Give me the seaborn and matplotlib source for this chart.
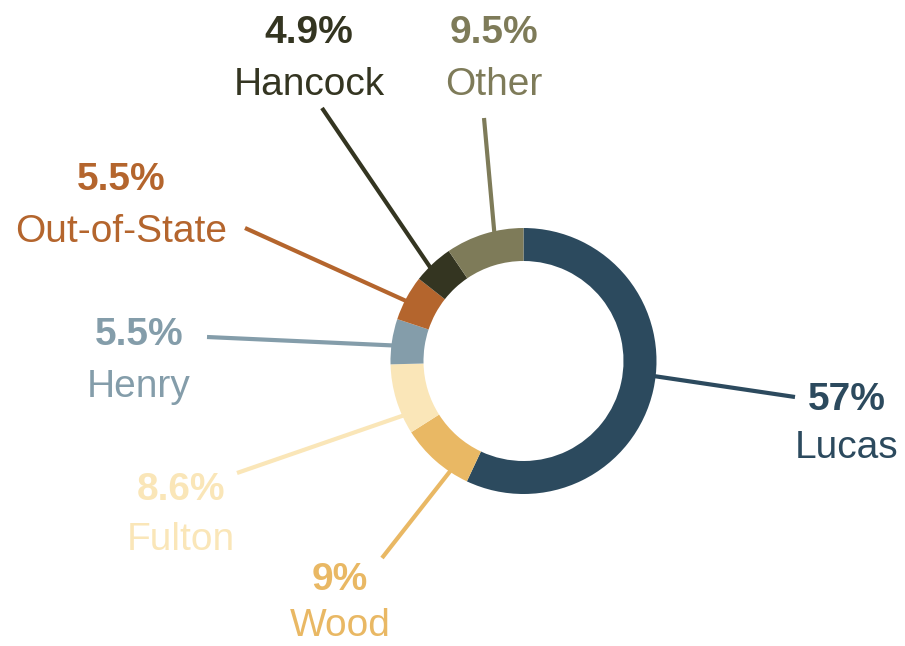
import matplotlib
matplotlib.use("Agg")
import matplotlib.pyplot as plt
import seaborn as sns

# share of total by county, clockwise from 12 o'clock
counties = ["Lucas", "Wood", "Fulton", "Henry", "Out-of-State", "Hancock", "Other"]
shares = [57, 9, 8.6, 5.5, 5.5, 4.9, 9.5]
colors = ["#2C4A5E", "#E9B864", "#FAE6B8", "#849DAA", "#B4652D", "#343521", "#7E7B59"]

# label layout in image pixels: (x centre, baseline of % , baseline of name)
label_pos = {
    "Lucas": (847, 410, 458),
    "Wood": (340, 590, 636),
    "Fulton": (181, 500, 550),
    "Henry": (139, 345, 397),
    "Out-of-State": (121, 190, 242),
    "Hancock": (309, 43, 95),
    "Other": (494, 43, 95),
}
# leader lines: (outer x, outer y, inner x, inner y)
leaders = {
    "Lucas": (795, 397, 640, 374),
    "Wood": (382, 558, 455, 465),
    "Fulton": (237, 473, 425, 408),
    "Henry": (207, 337, 405, 346),
    "Out-of-State": (245, 228, 415, 305),
    "Hancock": (322, 108, 432, 270),
    "Other": (484, 118, 495, 240),
}

W, H = 905, 646

sns.set_theme(style="white")
plt.rcParams["font.family"] = ["Liberation Sans", "DejaVu Sans"]

fig = plt.figure(figsize=(W / 100, H / 100), dpi=100)
ax = fig.add_axes([0, 0, 1, 1])

ax.pie(shares, colors=colors, startangle=90, counterclock=False,
       radius=133, center=(523.5, H - 361),
       wedgeprops=dict(width=33, linewidth=0))

for name, val, col in zip(counties, shares, colors):
    x0, y0, x1, y1 = leaders[name]
    ax.plot([x0, x1], [H - y0, H - y1], color=col, lw=3,
            solid_capstyle="butt", zorder=0.5)
    cx, b1, b2 = label_pos[name]
    ax.text(cx, H - b1, "{:g}%".format(val), ha="center", va="baseline",
            fontsize=28, fontweight="bold", color=col)
    ax.text(cx, H - b2, name, ha="center", va="baseline",
            fontsize=28, color=col)

ax.set_xlim(0, W)
ax.set_ylim(0, H)
ax.axis("off")

fig.savefig("out.png", dpi=100)
